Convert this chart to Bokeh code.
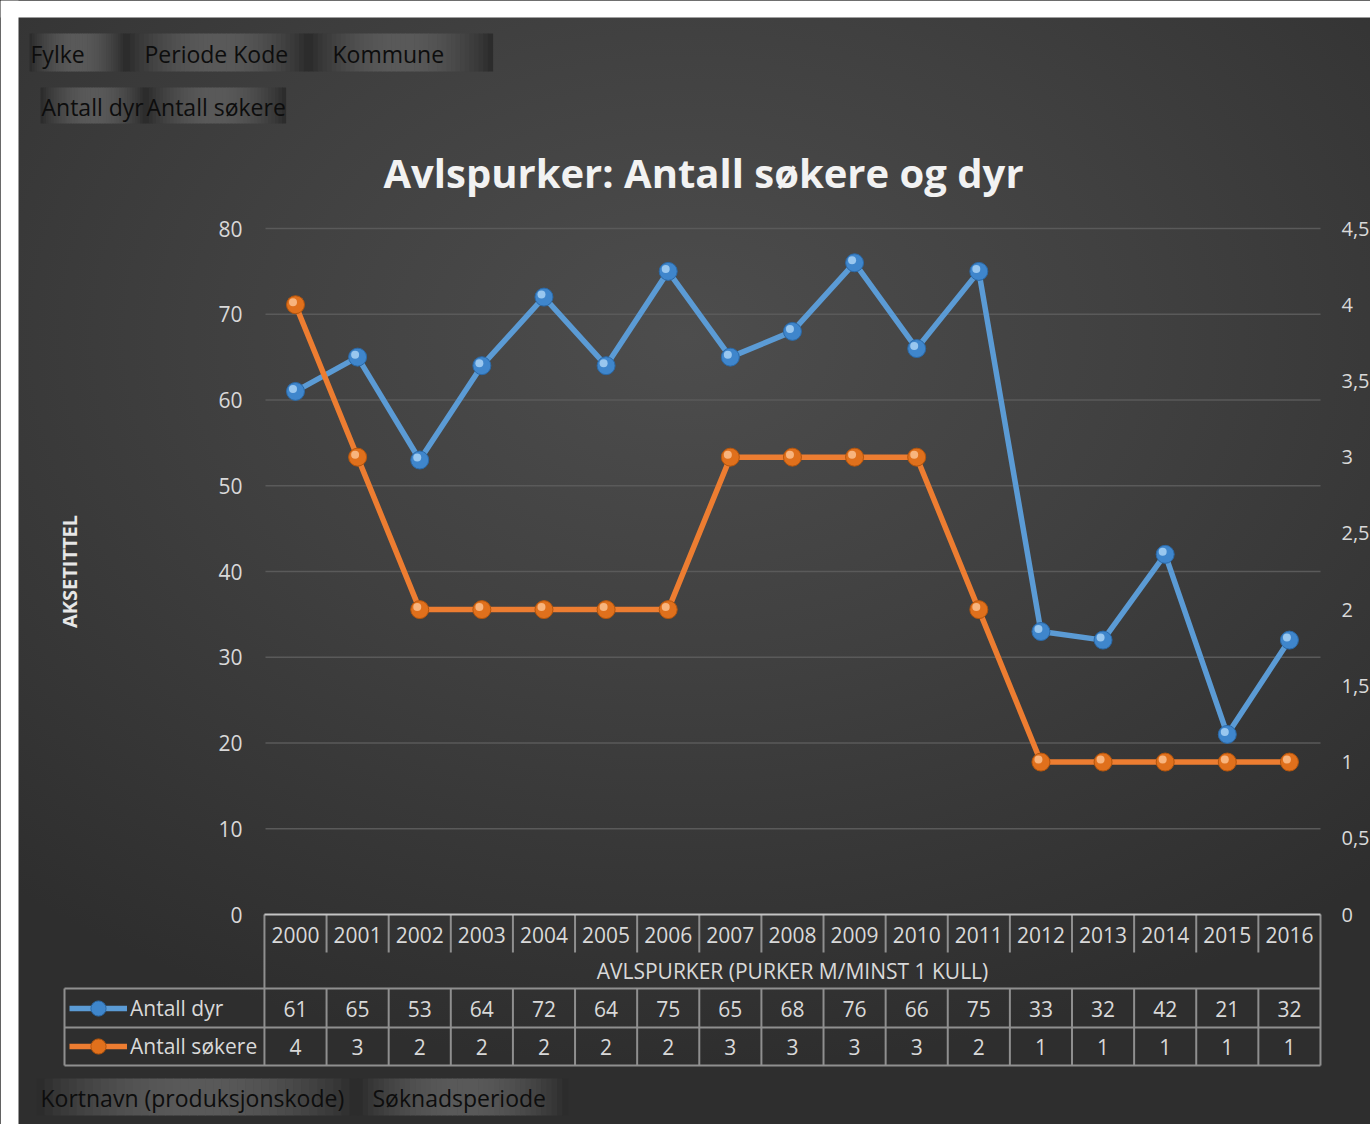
import math
from bokeh.plotting import figure
from bokeh.models import Range1d, Legend, LegendItem, ColumnDataSource
from bokeh.core.properties import value
from bokeh.embed import file_html
from bokeh.resources import INLINE

# ---------------- data ----------------
years = [2000, 2001, 2002, 2003, 2004, 2005, 2006, 2007, 2008,
         2009, 2010, 2011, 2012, 2013, 2014, 2015, 2016]
year_labels = [str(y) for y in years]
antall_dyr = [61, 65, 53, 64, 72, 64, 75, 65, 68, 76, 66, 75, 33, 32, 42, 21, 32]
antall_sokere = [4, 3, 2, 2, 2, 2, 2, 3, 3, 3, 3, 2, 1, 1, 1, 1, 1]
series_names = ["Antall dyr", "Antall søkere"]
left_ticks = [0, 10, 20, 30, 40, 50, 60, 70, 80]
right_ticks = [0, 0.5, 1, 1.5, 2, 2.5, 3, 3.5, 4, 4.5]
right_tick_labels = ["0", "0,5", "1", "1,5", "2", "2,5", "3", "3,5", "4", "4,5"]
category_title = "AVLSPURKER (PURKER M/MINST 1 KULL)"
title_text = "Avlspurker: Antall søkere og dyr"
axis_title = "AKSETITTEL"
filter_fields = ["Fylke", "Periode Kode", "Kommune"]
value_fields = ["Antall dyr", "Antall søkere"]
row_fields = ["Kortnavn (produksjonskode)", "Søknadsperiode"]

# ---------------- layout (page pixels) ----------------
PX0, PY0 = 0, 0              # canvas origin on page
W, H = 1370, 1124
PL, PR, PT = 265, 1320, 228   # plot area left/right/top
X0, XPX = 295, 62.12          # page x of first category, px per category
Y0 = 914                      # page y of value 0
LMAX, RMAX = left_ticks[-1], right_ticks[-1]
YPX = (Y0 - PT) / LMAX
RS = RMAX / LMAX

def xv(px):
    return years[0] + (px - X0) / XPX

def yv(py):
    return (Y0 - py) / YPX

FONT = "Open Sans"
TXT = "#d9d9d9"
BLUE, ORANGE = "#5B9BD5", "#ED7D31"
GRID = "#5a5a5a"
TABLE = "#8f8f8f"

p = figure(width=W, height=H, output_backend="svg", toolbar_location=None,
           x_range=Range1d(xv(PX0), xv(PX0 + W)), y_range=Range1d(yv(PY0 + H), yv(PY0)),
           x_axis_location=None, y_axis_location=None, min_border=0)
p.background_fill_color = None
p.border_fill_color = None
p.outline_line_color = None
p.grid.visible = False
p.styles = {"background": "radial-gradient(ellipse 75% 65% at 50% 30%, #4d4d4d 0%, #404040 45%, #2e2e2e 100%)"}
p.extra_y_ranges = {"right": Range1d(yv(PY0 + H) * RS, yv(PY0) * RS)}

# white page strip around the chart area
p.quad(left=[xv(PX0), xv(PX0)], right=[xv(18), xv(PX0 + W)],
       top=[yv(PY0), yv(PY0)], bottom=[yv(PY0 + H), yv(17)],
       fill_color="white", line_color=None)

# ---------------- gridlines & tick labels ----------------
p.segment(x0=[xv(PL)] * (len(left_ticks) - 1), x1=[xv(PR)] * (len(left_ticks) - 1),
          y0=left_ticks[1:], y1=left_ticks[1:], line_color=GRID, line_width=1.5)
p.text(x=[xv(242)] * len(left_ticks), y=left_ticks, text=[str(t) for t in left_ticks],
       text_align="right", text_baseline="middle", text_color=TXT,
       text_font=value(FONT), text_font_size="21px")
p.text(x=[xv(1341)] * len(right_ticks), y=right_ticks, text=right_tick_labels,
       text_align="left", text_baseline="middle", text_color=TXT,
       text_font=value(FONT), text_font_size="20px", y_range_name="right")

# ---------------- series ----------------
src = ColumnDataSource(dict(x=years, dyr=antall_dyr, sok=antall_sokere,
                            hx=[y - 2.5 / XPX for y in years],
                            hdyr=[v + 2.5 / YPX for v in antall_dyr],
                            hsok=[v + 2.5 / YPX * RS for v in antall_sokere]))
l1 = p.line("x", "dyr", source=src, color=BLUE, line_width=5.5, line_join="round")
l2 = p.line("x", "sok", source=src, color=ORANGE, line_width=5.5, line_join="round",
            y_range_name="right")
m1 = p.scatter("x", "dyr", source=src, size=18, fill_color="#3f86cc", line_color="#2a69a8", line_width=1)
p.scatter("hx", "hdyr", source=src, size=8, fill_color="#a9d2f5", fill_alpha=0.85, line_color=None)
m2 = p.scatter("x", "sok", source=src, size=18, fill_color="#e0701c", line_color="#b5550c", line_width=1,
               y_range_name="right")
p.scatter("hx", "hsok", source=src, size=8, fill_color="#fbc08e", fill_alpha=0.85, line_color=None,
          y_range_name="right")

# ---------------- data table ----------------
ROW_HDR, ROW_CAT, ROW_A, ROW_B = 952, 988, 1027, 1065
LEG_L = 64
left_b = years[0] - 0.5
right_b = years[-1] + 0.5
inner = [y + 0.5 for y in years[:-1]]

seg_x0, seg_y0, seg_x1, seg_y1 = [], [], [], []
for bx in inner:
    seg_x0 += [bx, bx]; seg_x1 += [bx, bx]
    seg_y0 += [0, yv(ROW_CAT)]; seg_y1 += [yv(ROW_HDR), yv(ROW_B)]
for bx in (left_b, right_b):
    seg_x0.append(bx); seg_x1.append(bx); seg_y0.append(0); seg_y1.append(yv(ROW_B))
seg_x0.append(xv(LEG_L)); seg_x1.append(xv(LEG_L)); seg_y0.append(yv(ROW_CAT)); seg_y1.append(yv(ROW_B))
for ry in (ROW_CAT, ROW_A, ROW_B):
    seg_x0.append(xv(LEG_L)); seg_x1.append(right_b); seg_y0.append(yv(ry)); seg_y1.append(yv(ry))
p.segment(seg_x0, seg_y0, seg_x1, seg_y1, line_color=TABLE, line_width=2)
p.segment([left_b], [0], [right_b], [0], line_color="#c4c4c4", line_width=2)

def text_at(xs, ys, texts, size="20px", color=TXT, align="center", bold=False, angle=0.0):
    p.text(x=xs, y=ys, text=texts, text_align=align, text_baseline="middle",
           text_color=color, text_font=value(FONT), text_font_size=size,
           text_font_style="bold" if bold else "normal", angle=angle)

text_at(years, [yv(934)] * len(years), year_labels, size="21px")
text_at([(left_b + right_b) / 2], [yv(970)], [category_title], size="21px")
text_at(years, [yv(1008)] * len(years), [str(v) for v in antall_dyr], size="21px")
text_at(years, [yv(1046)] * len(years), [str(v) for v in antall_sokere], size="21px")

legend = Legend(items=[LegendItem(label=series_names[0], renderers=[l1, m1]),
                       LegendItem(label=series_names[1], renderers=[l2, m2])],
                location=(69 - PX0, PY0 + H - ROW_B))
legend.padding = 0
legend.margin = 0
legend.spacing = 0
legend.glyph_width = 58
legend.glyph_height = 38
legend.label_height = 38
legend.label_standoff = 3
legend.border_line_color = None
legend.background_fill_alpha = 0
legend.label_text_color = TXT
legend.label_text_font = FONT
legend.label_text_font_size = "21px"
p.add_layout(legend, "center")

# ---------------- titles ----------------
text_at([xv(703)], [yv(172)], [title_text], size="40px", color="#f2f2f2", bold=True)
text_at([xv(69)], [yv(571)], [axis_title], size="20px", color="#e6e6e6", bold=True,
        angle=math.pi / 2)

# ---------------- pivot field buttons ----------------
bl, br, bt, bb, bc = [], [], [], [], []
def button(x0, x1, y0, y1, n=40):
    for i in range(n):
        t = (i + 0.5) / n
        k = math.sin(math.pi * t) ** 0.8
        c = int(0x29 + (0x5a - 0x29) * k)
        bl.append(xv(x0 + (x1 - x0) * i / n))
        br.append(xv(x0 + (x1 - x0) * (i + 1) / n + 0.6))
        bt.append(yv(y0)); bb.append(yv(y1))
        bc.append("#%02x%02x%02x" % (c, c, c))

row1_edges = [29, 125, 308, 492]
row1_text_x = [30, 144, 332]
row2_edges = [40, 145, 285]
row2_text_x = [41, 146]
row3_edges = [36, 357, 567]
row3_text_x = [40, 372]

btn_text = []
for edges, tx, names, (ya, yb) in ((row1_edges, row1_text_x, filter_fields, (33, 71)),
                                   (row2_edges, row2_text_x, value_fields, (87, 123)),
                                   (row3_edges, row3_text_x, row_fields, (1078, 1115))):
    for i, name in enumerate(names):
        button(edges[i], edges[i + 1], ya, yb)
        btn_text.append((xv(tx[i]), yv((ya + yb) / 2 + 1), name))
p.quad(left=bl, right=br, top=bt, bottom=bb, fill_color=bc, line_color=None)
text_at([b[0] for b in btn_text], [b[1] for b in btn_text], [b[2] for b in btn_text],
        size="23px", color="#0d0d0d", align="left")

open("out.html", "w").write(file_html(p, INLINE))
